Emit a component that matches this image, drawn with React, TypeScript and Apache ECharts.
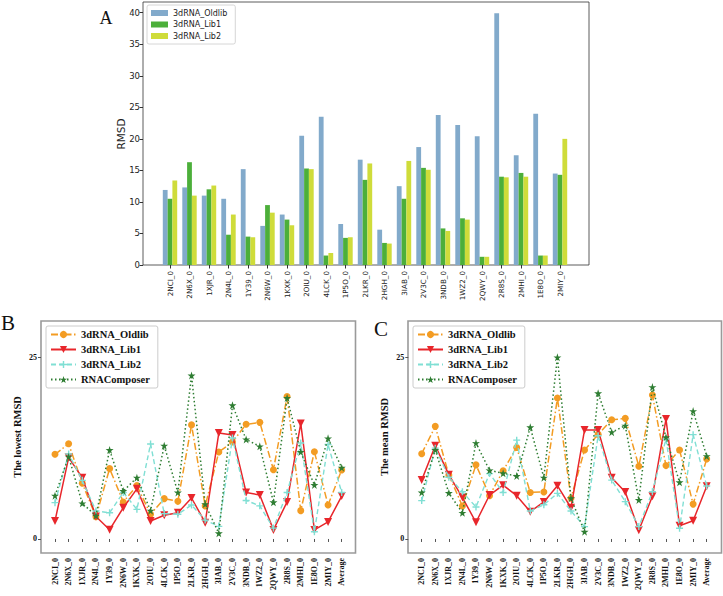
import React, { useEffect, useRef } from "react";
import * as echarts from "echarts";

const pdbIds = ["2NCI_0", "2N6X_0", "1XJR_0", "2N4L_0", "1Y39_0", "2N6W_0", "1KXK_0", "2OIU_0", "4LCK_0", "1P5O_0", "2LKR_0", "2HGH_0", "3IAB_0", "2V3C_0", "3NDB_0", "1WZ2_0", "2QWY_0", "2R8S_0", "2MHI_0", "1E8O_0", "2MIY_0"];
const lineCategories = [...pdbIds, "Average"];

const barOldlib = [11.9, 12.3, 11.0, 10.5, 15.2, 6.2, 8.0, 20.5, 23.5, 6.5, 16.7, 5.6, 12.5, 18.7, 23.8, 22.2, 20.4, 39.9, 17.4, 24.0, 14.5];
const barLib1 = [10.5, 16.3, 12.0, 4.8, 4.5, 9.5, 7.2, 15.3, 1.5, 4.3, 13.5, 3.5, 10.5, 15.4, 5.8, 7.4, 1.3, 14.0, 14.6, 1.5, 14.3];
const barLib2 = [13.4, 11.0, 12.6, 8.0, 4.4, 8.3, 6.3, 15.2, 1.9, 4.4, 16.1, 3.4, 16.5, 15.1, 5.4, 7.2, 1.3, 13.9, 14.0, 1.5, 20.0];

const lowestOldlib = [11.65, 13.1, 7.66, 3.07, 9.68, 5.1, 7.34, 3.4, 5.55, 5.18, 15.7, 4.54, 11.97, 13.35, 15.78, 16.05, 9.54, 19.6, 3.9, 12.0, 4.68, 9.5];
const lowestLib1 = [2.48, 11.2, 8.44, 3.1, 1.28, 4.3, 6.9, 2.48, 3.26, 3.6, 5.64, 2.25, 14.6, 14.3, 6.4, 6.05, 1.25, 5.1, 15.9, 1.25, 2.35, 5.9];
const lowestLib2 = [5.0, 11.7, 8.07, 3.85, 3.6, 6.4, 4.08, 13.07, 3.49, 3.4, 4.68, 2.6, 1.74, 13.9, 5.3, 4.56, 1.5, 6.4, 13.2, 1.0, 13.0, 6.4];
const lowestComposer = [5.96, 11.33, 4.9, 3.2, 12.25, 6.6, 8.44, 3.9, 12.84, 6.4, 22.5, 4.8, 0.78, 18.4, 13.7, 12.75, 5.05, 19.4, 11.97, 7.43, 13.85, 9.8];

const meanOldlib = [11.74, 15.5, 8.8, 4.54, 10.2, 5.96, 9.4, 12.6, 6.4, 6.47, 19.4, 5.6, 12.25, 14.4, 16.4, 16.6, 10.0, 19.8, 10.1, 12.25, 4.8, 11.0];
const meanLib1 = [8.1, 12.84, 8.85, 5.7, 2.3, 6.05, 7.4, 5.96, 3.76, 5.1, 7.34, 4.3, 15.0, 15.0, 8.44, 6.47, 1.2, 5.87, 16.5, 1.83, 2.5, 7.25];
const meanLib2 = [5.28, 12.5, 8.5, 6.5, 4.4, 9.0, 6.4, 13.6, 3.85, 4.72, 6.28, 3.85, 1.7, 14.2, 8.1, 5.14, 1.7, 6.5, 13.76, 1.47, 14.36, 7.3];
const meanComposer = [6.4, 12.25, 6.33, 3.6, 13.2, 9.45, 9.04, 8.67, 15.37, 8.44, 25.0, 5.6, 1.0, 20.05, 14.7, 15.6, 5.37, 20.9, 14.0, 7.8, 17.6, 11.4];

const rmsdTicks = [0, 5, 10, 15, 20, 25, 30, 35, 40];
const lineTicks = [0, 25];

const barNames = ["3dRNA_Oldlib", "3dRNA_Lib1", "3dRNA_Lib2"];
const lineNames = ["3dRNA_Oldlib", "3dRNA_Lib1", "3dRNA_Lib2", "RNAComposer"];

const PLUS = "path://M4,0H6V4H10V6H6V10H4V6H0V4H4Z";
const STAR = "path://M10,0L12.23,6.93L19.51,6.91L13.61,11.17L15.88,18.09L10,13.8L4.12,18.09L6.39,11.17L0.49,6.91L7.77,6.93Z";

const SERIF = "'Liberation Serif', 'Times New Roman', serif";
const SANS = "'DejaVu Sans', sans-serif";

const lineStyles = [
  { color: "#f39c23", symbol: "circle", size: 7, rotate: 0, type: [7, 2.5, 1.5, 2.5] as any, width: 1.5 },
  { color: "#e8262b", symbol: "triangle", size: 8, rotate: 180, type: "solid" as any, width: 1.5 },
  { color: "#80dfd4", symbol: PLUS, size: 7, rotate: 0, type: [5, 3] as any, width: 1.4 },
  { color: "#2e7d32", symbol: STAR, size: 8, rotate: 0, type: [1.5, 2.5] as any, width: 1.5 },
];

function lineSeries(panel: string, idx: number, datasets: number[][]) {
  return datasets.map((d, i) => {
    const s = lineStyles[i];
    return {
      type: "line",
      name: lineNames[i] + " " + panel,
      xAxisIndex: idx,
      yAxisIndex: idx,
      data: d,
      symbol: s.symbol,
      symbolSize: s.size,
      symbolRotate: s.rotate,
      lineStyle: { color: s.color, width: s.width, type: s.type },
      itemStyle: { color: s.color },
      z: 2 + i,
    };
  });
}

export default function App() {
  const ref = useRef<HTMLDivElement>(null);
  useEffect(() => {
    if (!ref.current) return;
    const chart = echarts.init(ref.current, null, { renderer: "svg" });
    const barColors = ["#82aacb", "#4caf3a", "#cfdc3a"];
    const bottomX = (gi: number) => ({
      type: "category",
      gridIndex: gi,
      data: lineCategories,
      boundaryGap: false,
      axisLine: { show: false },
      axisTick: { show: true, length: 3, lineStyle: { color: "#555" } },
      axisLabel: { rotate: 90, fontSize: 8, fontWeight: "bold", fontFamily: SERIF, color: "#111", margin: 5, interval: 0 },
      splitLine: { show: false },
    });
    const bottomY = (gi: number, off: number) => ({
      type: "value",
      gridIndex: gi,
      min: -1.93,
      max: 30,
      offset: off,
      axisLine: { show: false },
      axisTick: { show: true, length: 3, customValues: lineTicks, lineStyle: { color: "#555" } },
      axisLabel: { customValues: lineTicks, fontSize: 8, fontWeight: "bold", fontFamily: SERIF, color: "#111", margin: 4 },
      splitLine: { show: false },
    });
    const bottomLegend = (left: number, panel: string) => ({
      left,
      top: 326,
      orient: "vertical",
      data: lineNames.map((n) => n + " " + panel),
      formatter: (n: string) => n.slice(0, n.length - 2),
      itemWidth: 25,
      itemHeight: 9,
      itemGap: 4,
      textStyle: { fontSize: 10.5, fontWeight: "bold", fontFamily: SERIF, color: "#111", lineHeight: 11 },
      backgroundColor: "#fff",
      borderColor: "#cccccc",
      borderWidth: 1,
      borderRadius: 2,
      padding: [3, 8, 3, 4],
      selectedMode: false,
    });
    chart.setOption({
      animation: false,
      backgroundColor: "#ffffff",
      grid: [
        { left: 160.25, right: 153.25, top: 2, bottom: 331 },
        { left: 55, right: 381.3, top: 321, bottom: 43 },
        { left: 421.7, right: 16.3, top: 321, bottom: 43 },
      ],
      xAxis: [
        {
          type: "category",
          gridIndex: 0,
          data: pdbIds,
          axisLine: { show: false },
          axisTick: { show: true, alignWithLabel: true, length: 3.5, lineStyle: { color: "#333" } },
          axisLabel: { rotate: 90, fontSize: 7.2, fontFamily: SANS, color: "#222", margin: 6, interval: 0 },
          splitLine: { show: false },
        },
        bottomX(1),
        bottomX(2),
      ],
      yAxis: [
        {
          type: "value",
          gridIndex: 0,
          min: 0,
          max: 41.7,
          offset: 17.25,
          axisLine: { show: false },
          axisTick: { show: true, length: 3.5, customValues: rmsdTicks, lineStyle: { color: "#333" } },
          axisLabel: { customValues: rmsdTicks, fontSize: 8.5, fontFamily: SANS, color: "#222", margin: 3 },
          splitLine: { show: false },
        },
        bottomY(1, 14),
        bottomY(2, 13.4),
      ],
      legend: [
        {
          left: 147,
          top: 5,
          orient: "vertical",
          data: barNames.map((n) => ({ name: n, icon: "rect" })),
          itemWidth: 17,
          itemHeight: 6,
          itemGap: 3.5,
          textStyle: { fontSize: 8, fontFamily: SANS, color: "#222", lineHeight: 8 },
          backgroundColor: "#fff",
          borderColor: "#cccccc",
          borderWidth: 0.8,
          borderRadius: 2,
          padding: [4, 8, 4, 4],
          selectedMode: false,
        },
        bottomLegend(46, "B"),
        bottomLegend(413, "C"),
      ],
      series: [
        ...[barOldlib, barLib1, barLib2].map((d, i) => ({
          type: "bar",
          name: barNames[i],
          xAxisIndex: 0,
          yAxisIndex: 0,
          data: d,
          barWidth: 4.8,
          barGap: "0%",
          itemStyle: { color: barColors[i] },
        })),
        ...lineSeries("B", 1, [lowestOldlib, lowestLib1, lowestLib2, lowestComposer]),
        ...lineSeries("C", 2, [meanOldlib, meanLib1, meanLib2, meanComposer]),
      ],
      graphic: [
        { type: "rect", shape: { x: 143, y: 2, width: 446, height: 263 }, style: { fill: "transparent", stroke: "#333", lineWidth: 0.8 }, silent: true },
        { type: "rect", shape: { x: 41, y: 321, width: 314.5, height: 232 }, style: { fill: "transparent", stroke: "#9a9a9a", lineWidth: 1.6 }, silent: true },
        { type: "rect", shape: { x: 408, y: 321, width: 313.5, height: 232 }, style: { fill: "transparent", stroke: "#9a9a9a", lineWidth: 1.6 }, silent: true },
        { type: "text", x: 106, y: 18, style: { text: "A", fontSize: 18, fontFamily: SERIF, fill: "#111", align: "center", verticalAlign: "middle" } },
        { type: "text", x: 8, y: 323, style: { text: "B", fontSize: 21, fontFamily: SERIF, fill: "#111", align: "center", verticalAlign: "middle" } },
        { type: "text", x: 381, y: 329, style: { text: "C", fontSize: 21, fontFamily: SERIF, fill: "#111", align: "center", verticalAlign: "middle" } },
        { type: "text", x: 121, y: 134, rotation: Math.PI / 2, style: { text: "RMSD", fontSize: 10.5, fontFamily: SANS, fill: "#222", align: "center", verticalAlign: "middle" } },
        { type: "text", x: 17, y: 437, rotation: Math.PI / 2, style: { text: "The lowest RMSD", fontSize: 10.5, fontWeight: "bold", fontFamily: SERIF, fill: "#111", align: "center", verticalAlign: "middle" } },
        { type: "text", x: 384, y: 437, rotation: Math.PI / 2, style: { text: "The mean RMSD", fontSize: 10.5, fontWeight: "bold", fontFamily: SERIF, fill: "#111", align: "center", verticalAlign: "middle" } },
      ],
    });
    return () => chart.dispose();
  }, []);
  return <div ref={ref} style={{ position: "fixed", left: 0, top: 0, width: 723, height: 596 }} />;
}
